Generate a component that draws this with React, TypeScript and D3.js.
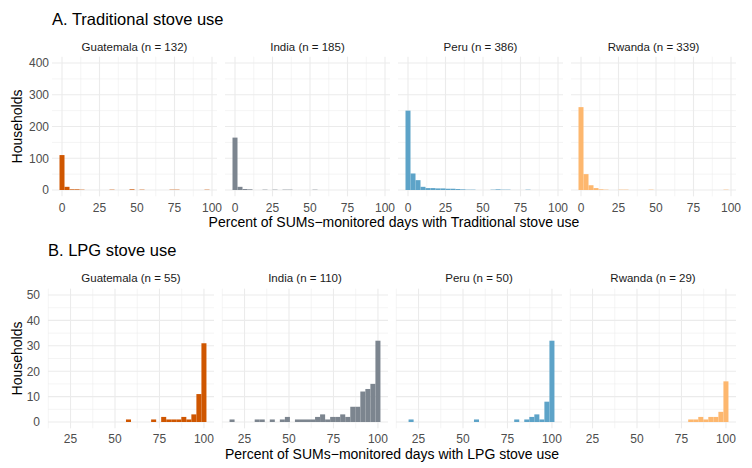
import React from 'react';
import * as d3 from 'd3';

const W = 752;
const H = 468;

const countries = ['Guatemala', 'India', 'Peru', 'Rwanda'];
const colors = ['#CF5600', '#7C858F', '#5DA3C8', '#FDB76E'];

// sample sizes shown in the strip labels
const nTrad = [132, 185, 386, 339];
const nLpg = [55, 110, 50, 29];

// A. traditional stove: 30 bins centred at 0 .. 96.7
const tradGuatemala = [110, 10, 2, 2, 1, 0, 0, 0, 0, 0, 1, 0, 0, 0, 2, 0, 1, 0, 0, 0, 0, 0, 1, 1, 0, 0, 0, 0, 0, 1];
const tradIndia = [165, 10, 3, 2, 0, 0, 1, 0, 1, 0, 1, 1, 0, 0, 0, 0, 1, 0, 0, 0, 0, 0, 0, 0, 0, 0, 0, 0, 0, 0];
const tradPeru = [250, 52, 31, 10, 6, 6, 5, 5, 4, 4, 3, 2, 1, 1, 0, 0, 0, 1, 2, 1, 1, 0, 0, 0, 1, 0, 0, 0, 0, 0];
const tradRwanda = [261, 50, 15, 6, 2, 1, 0, 0, 1, 1, 0, 0, 0, 0, 1, 0, 0, 0, 0, 0, 0, 0, 0, 0, 0, 0, 0, 0, 0, 1];

// B. LPG stove: 30 bins centred at 18 .. 100
const lpgGuatemala = [0, 0, 0, 0, 0, 0, 0, 0, 0, 0, 0, 0, 0, 0, 1, 0, 0, 0, 0, 1, 0, 2, 1, 1, 1, 2, 1, 3, 11, 31];
const lpgIndia = [1, 0, 0, 0, 0, 1, 1, 0, 1, 0, 1, 2, 0, 1, 1, 1, 1, 2, 3, 1, 2, 2, 3, 2, 6, 6, 12, 13, 15, 32];
const lpgPeru = [0, 1, 0, 0, 0, 0, 0, 0, 0, 0, 0, 0, 0, 0, 1, 0, 0, 0, 0, 0, 0, 0, 1, 0, 1, 2, 3, 1, 8, 32];
const lpgRwanda = [0, 0, 0, 0, 0, 0, 0, 0, 0, 0, 0, 0, 0, 0, 0, 0, 0, 0, 0, 0, 0, 0, 1, 1, 2, 1, 2, 2, 4, 16];

const tradTicksX = [0, 25, 50, 75, 100];
const lpgTicksX = [25, 50, 75, 100];
const tradTicksY = [0, 100, 200, 300, 400];
const lpgTicksY = [0, 10, 20, 30, 40, 50];

const FONT = '"Liberation Sans", Arial, Helvetica, sans-serif';
const GRID = '#EBEBEB';

interface PanelProps {
  title: string;
  xTitle: string;
  counts: number[][];
  ns: number[];
  binStart: number;
  binEnd: number;
  xTicks: number[];
  yTicks: number[];
  yMax: number;
  left: number;
  yLabX: number;
  panelW: number;
  top: number;
  bottom: number;
  titleY: number;
  stripY: number;
  xLabY: number;
  xTitleY: number;
}

const Panel: React.FC<PanelProps> = (p) => {
  const nb = p.counts[0].length;
  const bw = (p.binEnd - p.binStart) / (nb - 1);
  const lo = p.binStart - bw / 2;
  const hi = p.binEnd + bw / 2;
  const pad = (hi - lo) * 0.05;
  const gap = 8;

  const y = d3.scaleLinear().domain([-p.yMax * 0.05, p.yMax * 1.05]).range([p.bottom, p.top]);
  const yStep = p.yTicks[1] - p.yTicks[0];
  const yMinor = p.yTicks.slice(0, -1).map((t) => t + yStep / 2);
  const xStep = p.xTicks[1] - p.xTicks[0];
  const xMinor = [p.xTicks[0] - xStep / 2, ...p.xTicks.map((t) => t + xStep / 2)];

  const rightEdge = p.left + 4 * p.panelW + 3 * gap;

  return (
    <g>
      <text x={p.left} y={p.titleY} fontSize={16.5} fill="#000" fontFamily={FONT}>
        {p.title}
      </text>
      {p.counts.map((c, i) => {
        const x0 = p.left + i * (p.panelW + gap);
        const x = d3.scaleLinear().domain([lo - pad, hi + pad]).range([x0, x0 + p.panelW]);
        const [d0, d1] = x.domain();
        return (
          <g key={i}>
            {yMinor.map((t) => (
              <line key={'ym' + t} x1={x0} x2={x0 + p.panelW} y1={y(t)} y2={y(t)} stroke={GRID} strokeWidth={0.55} />
            ))}
            {xMinor.filter((t) => t >= d0 && t <= d1).map((t) => (
              <line key={'xm' + t} x1={x(t)} x2={x(t)} y1={p.top} y2={p.bottom} stroke={GRID} strokeWidth={0.55} />
            ))}
            {p.yTicks.map((t) => (
              <line key={'y' + t} x1={x0} x2={x0 + p.panelW} y1={y(t)} y2={y(t)} stroke={GRID} strokeWidth={1.1} />
            ))}
            {p.xTicks.map((t) => (
              <line key={'x' + t} x1={x(t)} x2={x(t)} y1={p.top} y2={p.bottom} stroke={GRID} strokeWidth={1.1} />
            ))}
            {c.map((v, k) => {
              if (!v) return null;
              const cx = p.binStart + k * bw;
              return (
                <rect
                  key={k}
                  x={x(cx - bw / 2)}
                  width={x(cx + bw / 2) - x(cx - bw / 2)}
                  y={y(v)}
                  height={y(0) - y(v)}
                  fill={colors[i]}
                />
              );
            })}
            <text
              x={x0 + p.panelW / 2}
              y={p.stripY}
              textAnchor="middle"
              fontSize={11.5}
              fill="#1A1A1A"
              fontFamily={FONT}
            >
              {`${countries[i]} (n = ${p.ns[i]})`}
            </text>
            {p.xTicks.map((t) => (
              <text
                key={'xl' + t}
                x={x(t)}
                y={p.xLabY}
                textAnchor="middle"
                fontSize={12}
                fill="#4D4D4D"
                fontFamily={FONT}
              >
                {t}
              </text>
            ))}
          </g>
        );
      })}
      {p.yTicks.map((t) => (
        <text
          key={'yl' + t}
          x={p.yLabX}
          y={y(t)}
          dy="0.36em"
          textAnchor="end"
          fontSize={12}
          fill="#4D4D4D"
          fontFamily={FONT}
        >
          {t}
        </text>
      ))}
      <text
        transform={`translate(17,${(p.top + p.bottom) / 2}) rotate(-90)`}
        dy="0.36em"
        textAnchor="middle"
        fontSize={14}
        fill="#000"
        fontFamily={FONT}
      >
        Households
      </text>
      <text
        x={(p.left + rightEdge) / 2}
        y={p.xTitleY}
        textAnchor="middle"
        fontSize={14}
        fill="#000"
        fontFamily={FONT}
      >
        {p.xTitle}
      </text>
    </g>
  );
};

export default function App() {
  return (
    <div style={{ position: 'absolute', left: 0, top: 0, width: W, height: H, background: '#fff' }}>
      <svg width={W} height={H} viewBox={`0 0 ${W} ${H}`}>
        <rect width={W} height={H} fill="#fff" />
        <Panel
          title="A. Traditional stove use"
          xTitle="Percent of SUMs−monitored days with Traditional stove use"
          counts={[tradGuatemala, tradIndia, tradPeru, tradRwanda]}
          ns={nTrad}
          binStart={0}
          binEnd={96.667}
          xTicks={tradTicksX}
          yTicks={tradTicksY}
          yMax={400}
          left={52}
          yLabX={49}
          panelW={165}
          top={56.65}
          bottom={196.35}
          titleY={25}
          stripY={51}
          xLabY={212}
          xTitleY={227}
        />
        <Panel
          title="B. LPG stove use"
          xTitle="Percent of SUMs−monitored days with LPG stove use"
          counts={[lpgGuatemala, lpgIndia, lpgPeru, lpgRwanda]}
          ns={nLpg}
          binStart={18}
          binEnd={100}
          xTicks={lpgTicksX}
          yTicks={lpgTicksY}
          yMax={50}
          left={48}
          yLabX={40}
          panelW={166}
          top={288.65}
          bottom={428.35}
          titleY={256}
          stripY={282}
          xLabY={443}
          xTitleY={459}
        />
      </svg>
    </div>
  );
}
